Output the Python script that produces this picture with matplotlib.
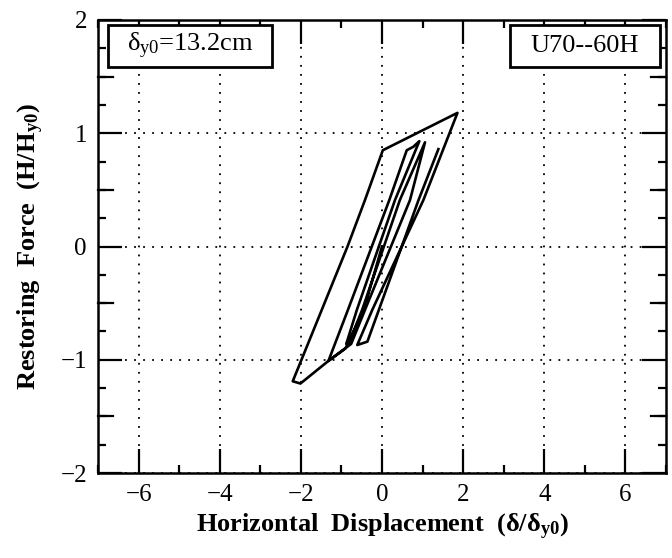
import matplotlib
matplotlib.use("Agg")
import matplotlib.pyplot as plt
from matplotlib.patches import Rectangle
from matplotlib.ticker import MultipleLocator

plt.rcParams["font.family"] = ["Liberation Serif", "DejaVu Serif"]
plt.rcParams["mathtext.fontset"] = "custom"
plt.rcParams["mathtext.rm"] = "Liberation Serif"
plt.rcParams["mathtext.it"] = "Liberation Serif:italic"
plt.rcParams["mathtext.bf"] = "Liberation Serif:bold"

# Normalised hysteresis response (displacement / yield displacement, force / yield force)
disp = [0.00, -0.45, -0.90, -1.32,
        -0.84, 0.18, 0.61, 0.77, 0.92,
        0.32, -0.62, -0.88,
        -0.80, -0.49, 0.44, 1.06,
        0.69, -0.42, -0.76, -1.32, -2.01, -2.20,
        -0.85, -0.42, 0.02, 1.86,
        1.02, -0.24, -0.61, -0.36,
        0.90, 1.39]
force = [0.00, -0.56, -0.90, -1.01,
         -0.56, 0.41, 0.85, 0.88, 0.93,
         0.41, -0.56, -0.86,
         -0.84, -0.56, 0.41, 0.92,
         0.41, -0.56, -0.86, -1.01, -1.21, -1.19,
         0.00, 0.41, 0.85, 1.18,
         0.41, -0.56, -0.87, -0.84,
         0.41, 0.86]

x_ticks = [-6, -4, -2, 0, 2, 4, 6]
y_ticks = [-2, -1, 0, 1, 2]
y_half_ticks = [-1.5, -0.5, 0.5, 1.5]
yield_disp_label = r"$\mathrm{δ_{y0}}$=13.2cm"
specimen_label = "U70--60H"

fig = plt.figure(figsize=(6.72, 5.58), dpi=100)
ax = fig.add_axes([98 / 672, 1 - 473 / 558, 568 / 672, 453 / 558])

ax.plot(disp, force, color="black", lw=1.9, solid_joinstyle="round", zorder=3)

ax.set_xlim(-7, 7)
ax.set_ylim(-2, 2)
ax.set_xticks(x_ticks)
ax.set_yticks(y_ticks)
ax.xaxis.set_minor_locator(MultipleLocator(1))
ax.yaxis.set_minor_locator(MultipleLocator(0.25))

for s in ax.spines.values():
    s.set_linewidth(1.8)

ax.tick_params(which="major", direction="in", length=17, width=1.6,
               top=True, right=True, labelsize=18, pad=8)
ax.tick_params(which="minor", direction="in", length=5.5, width=1.6,
               top=True, right=True)

# intermediate-length ticks at the half units of the force axis
ytr = ax.get_yaxis_transform()
half_len = 15 / 568
for yv in y_half_ticks:
    ax.plot([0, half_len], [yv, yv], color="black", lw=1.6, transform=ytr, clip_on=False)
    ax.plot([1 - half_len, 1], [yv, yv], color="black", lw=1.6, transform=ytr, clip_on=False)

ax.grid(True, which="major", color="black", linestyle=(0, (1, 4)), lw=1.3)

ax.set_xlabel(r"Horizontal  Displacement  ($\mathbf{δ/δ_{y0}}$)",
              fontsize=19, fontweight="bold", labelpad=4)
ax.set_ylabel(r"Restoring  Force  ($\mathbf{H/H_{y0}}$)",
              fontsize=19, fontweight="bold", labelpad=10)

# annotation boxes
for (x0, x1), txt in [((10 / 568, 174 / 568), yield_disp_label),
                      ((412 / 568, 562 / 568), specimen_label)]:
    y0, y1 = (473 - 67) / 453, (473 - 25) / 453
    ax.add_patch(Rectangle((x0, y0), x1 - x0, y1 - y0, transform=ax.transAxes,
                           facecolor="white", edgecolor="black", lw=2.0, zorder=5))
    ax.text((x0 + x1) / 2, (y0 + y1) / 2, txt, transform=ax.transAxes,
            ha="center", va="center", fontsize=19, zorder=6)

fig.savefig("out.png", dpi=100)
